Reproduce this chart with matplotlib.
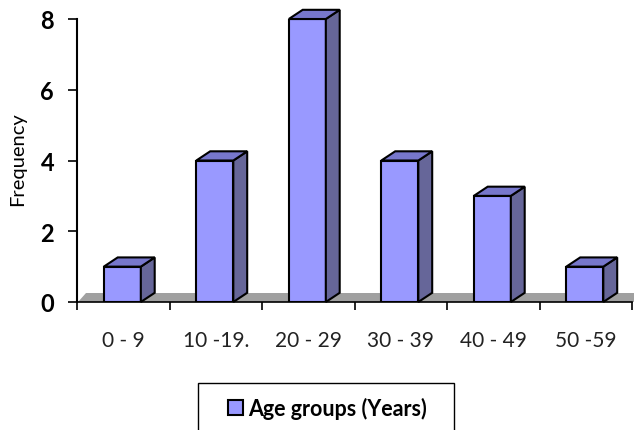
import matplotlib.pyplot as plt
import numpy as np
from matplotlib.patches import Polygon, Rectangle

# frequency of cases per age group
age_groups = ['0 - 9', '10 -19.', '20 - 29', '30 - 39', '40 - 49', '50 -59']
frequency = [1, 4, 8, 4, 3, 1]

plt.rcParams['font.family'] = ['Lato', 'DejaVu Sans']

fig = plt.figure(figsize=(6.34, 4.31), dpi=100)
ax = fig.add_axes([77/634, 128/431, 555/634, 283/431])

front = '#9999ff'
side = '#666699'
top = '#7777cc'

n = len(age_groups)
ax.set_xlim(-0.5, n - 0.5)
ax.set_ylim(0, 8)

# 3d depth in data units
dx = 0.15
dy = 0.26

# grey floor
floor = Polygon([(-0.49, 0), (n - 0.5 + 0.1, 0), (n - 0.5 + 0.1, dy),
                 (-0.49 + dx * 0.6, dy)],
                closed=True, facecolor='#a0a0a0', edgecolor='none',
                clip_on=False, zorder=1)
ax.add_patch(floor)

index = np.arange(n)
x0 = index - 0.21
w = 0.4
bars = ax.bar(x0, frequency, width=w, align='edge', color=front,
              edgecolor='black', linewidth=1.5, zorder=3,
              label='Age groups (Years)')

for i in range(n):
    xl = x0[i]
    xr = x0[i] + w
    h = frequency[i]
    s = Polygon([(xr, 0), (xr + dx, dy), (xr + dx, h + dy), (xr, h)],
                closed=True, facecolor=side, edgecolor='black',
                linewidth=1.5, clip_on=False, zorder=3)
    t = Polygon([(xl, h), (xl + dx, h + dy), (xr + dx, h + dy), (xr, h)],
                closed=True, facecolor=top, edgecolor='black',
                linewidth=1.5, clip_on=False, zorder=3)
    ax.add_patch(s)
    ax.add_patch(t)

# axes styling
for sp in ['top', 'right']:
    ax.spines[sp].set_visible(False)
ax.spines['left'].set_linewidth(1.5)
ax.spines['bottom'].set_linewidth(1.2)
ax.spines['bottom'].set_zorder(4)

ax.set_yticks([0, 2, 4, 6, 8])
ax.set_yticklabels(['0', '2', '4', '6', '8'], fontsize=17,
                   fontweight='bold')
ax.tick_params(axis='y', length=6.5, width=1.2, pad=10)

# category boundaries get tick marks, labels sit in the middle
ax.set_xticks(np.arange(-0.5, n, 1.0))
ax.set_xticklabels([])
ax.set_xticks(index, minor=True)
ax.set_xticklabels(age_groups, minor=True, fontsize=15, color='#222222')
ax.tick_params(axis='x', which='major', length=6, width=1.2, direction='out')
ax.tick_params(axis='x', which='minor', length=0, pad=20)

fig.text(18/634, 1 - 159/431, 'Frequency', rotation=90, ha='center',
         va='center', fontsize=14.5)

# legend box runs off the bottom of the figure, like the original
leg = fig.legend(handles=[bars], loc='center left',
                 bbox_to_anchor=(228/634, 1 - 409/431),
                 frameon=False, borderpad=0, borderaxespad=0,
                 handlelength=0.7, handleheight=0.7, handletextpad=0.25,
                 prop={'weight': 'bold', 'size': 15.5})
fig.patches.append(Rectangle((198/634, -0.05), 256/634, 47/431 + 0.05,
                             transform=fig.transFigure, fill=False,
                             edgecolor='black', linewidth=1.0))

fig.savefig('out.png', dpi=100)
